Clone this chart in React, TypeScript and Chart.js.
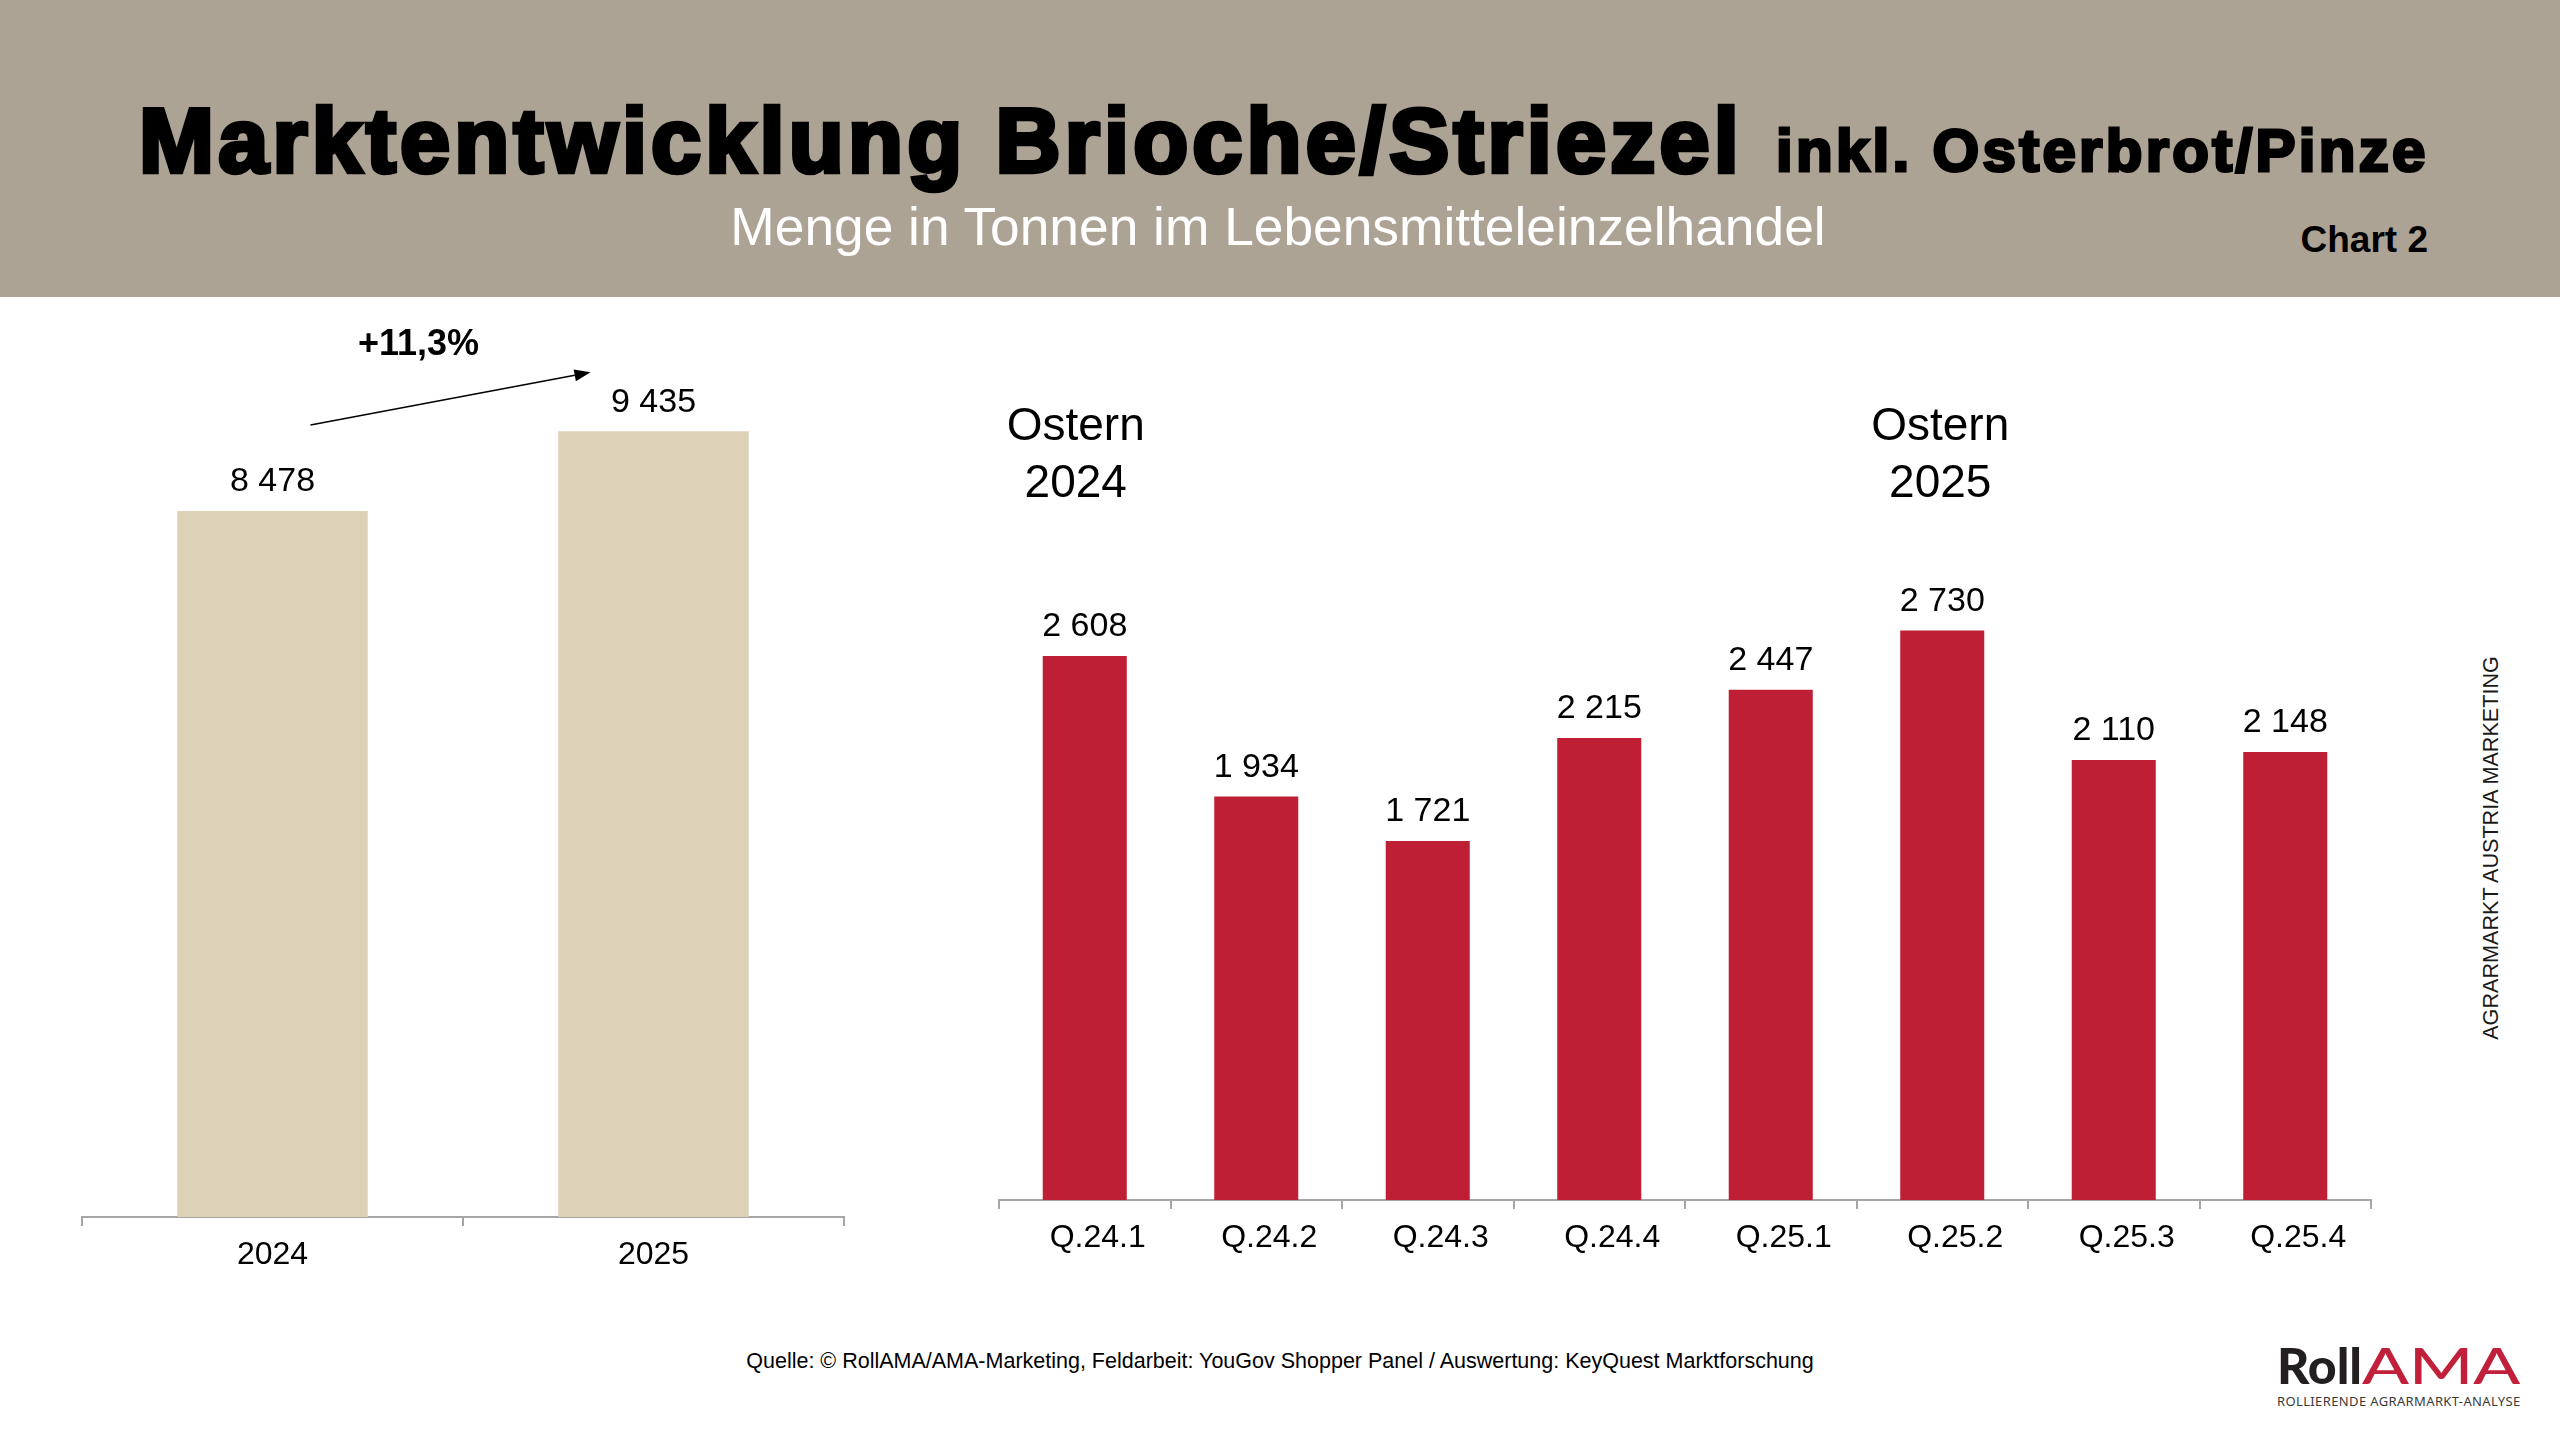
import React, { useEffect, useRef } from 'react';
import { Chart, registerables } from 'chart.js';

Chart.register(...registerables);

// ---- data ----
const yearLabels: string[] = ['2024', '2025'];
const yearValues: number[] = [8478, 9435];
const growthLabel = '+11,3%';

const quarterLabels: string[] = ['Q.24.1', 'Q.24.2', 'Q.24.3', 'Q.24.4', 'Q.25.1', 'Q.25.2', 'Q.25.3', 'Q.25.4'];
const quarterValues: number[] = [2608, 1934, 1721, 2215, 2447, 2730, 2110, 2148];
const easterGroups: string[][] = [['Ostern', '2024'], ['Ostern', '2025']];
const easterIndex: number[] = [0, 5];

const FONT = '"Liberation Sans", Arial, Helvetica, sans-serif';
const BEIGE = '#ddd2b7';
const RED = '#be1f34';
const AXIS = '#a6a6a6';

const fmt = (v: number) => String(v).replace(/\B(?=(\d{3})+(?!\d))/g, ' ');

const valueLabelPlugin = {
  id: 'valueLabels',
  afterDatasetsDraw(chart: any) {
    const ctx = chart.ctx;
    const meta = chart.getDatasetMeta(0);
    const data = chart.data.datasets[0].data as number[];
    ctx.save();
    ctx.font = `34px ${FONT}`;
    ctx.fillStyle = '#000';
    ctx.textAlign = 'center';
    ctx.textBaseline = 'middle';
    meta.data.forEach((el: any, i: number) => {
      ctx.fillText(fmt(data[i]), el.x, el.y - 29);
    });
    ctx.restore();
  },
};

const growthPlugin = {
  id: 'growthArrow',
  afterDatasetsDraw(chart: any) {
    const ctx = chart.ctx;
    const meta = chart.getDatasetMeta(0);
    const a = meta.data[0];
    const b = meta.data[1];
    if (!a || !b) return;
    const x1 = a.x + 38;
    const y1 = a.y - 86;
    const x2 = b.x - 63;
    const y2 = b.y - 59;
    ctx.save();
    ctx.strokeStyle = '#000';
    ctx.fillStyle = '#000';
    ctx.lineWidth = 1.6;
    const ang = Math.atan2(y2 - y1, x2 - x1);
    const hl = 16;
    const hw = 6;
    const bx = x2 - hl * Math.cos(ang);
    const by = y2 - hl * Math.sin(ang);
    ctx.beginPath();
    ctx.moveTo(x1, y1);
    ctx.lineTo(bx, by);
    ctx.stroke();
    ctx.beginPath();
    ctx.moveTo(x2, y2);
    ctx.lineTo(bx + hw * Math.sin(ang), by - hw * Math.cos(ang));
    ctx.lineTo(bx - hw * Math.sin(ang), by + hw * Math.cos(ang));
    ctx.closePath();
    ctx.fill();
    ctx.font = `bold 36px ${FONT}`;
    ctx.textAlign = 'center';
    ctx.textBaseline = 'middle';
    ctx.fillText(growthLabel, (x1 + x2) / 2 - 32, (y1 + y2) / 2 - 54);
    ctx.restore();
  },
};

const easterNudge = [-9, -2];
const easterPlugin = {
  id: 'easterLabels',
  afterDatasetsDraw(chart: any) {
    const ctx = chart.ctx;
    const xs = chart.scales.x;
    const top = chart.chartArea.top;
    ctx.save();
    ctx.font = `46px ${FONT}`;
    ctx.fillStyle = '#000';
    ctx.textAlign = 'center';
    ctx.textBaseline = 'alphabetic';
    easterGroups.forEach((lines, g) => {
      const x = xs.getPixelForValue(easterIndex[g]) + easterNudge[g];
      lines.forEach((t, li) => {
        ctx.fillText(t, x, top - 30 + li * 57);
      });
    });
    ctx.restore();
  },
};

function xAxis(labelOffset: number) {
  return {
    grid: {
      display: true,
      drawOnChartArea: false,
      drawTicks: true,
      tickLength: 9,
      color: AXIS,
      lineWidth: 2,
      offset: true,
    },
    border: { display: true, color: AXIS, width: 2 },
    ticks: { font: { family: FONT, size: 32 }, color: '#000', padding: 10, labelOffset },
    afterFit: (scale: any) => {
      scale.height = 60;
    },
  };
}

function BarChart(props: {
  labels: string[];
  values: number[];
  color: string;
  max: number;
  barPct: number;
  padding: any;
  plugins: any[];
  width: number;
  height: number;
  left: number;
  top: number;
  labelOffset: number;
}) {
  const ref = useRef<HTMLCanvasElement | null>(null);
  useEffect(() => {
    if (!ref.current) return;
    const chart = new Chart(ref.current, {
      type: 'bar',
      data: {
        labels: props.labels,
        datasets: [
          {
            data: props.values,
            backgroundColor: props.color,
            borderWidth: 0,
            categoryPercentage: 1,
            barPercentage: props.barPct,
          },
        ],
      },
      options: {
        responsive: false,
        animation: false,
        devicePixelRatio: 1,
        layout: { padding: props.padding },
        plugins: { legend: { display: false }, tooltip: { enabled: false } },
        scales: {
          x: xAxis(props.labelOffset) as any,
          y: { display: false, min: 0, max: props.max },
        },
      },
      plugins: props.plugins,
    });
    return () => chart.destroy();
  }, []);
  return (
    <canvas
      ref={ref}
      width={props.width}
      height={props.height}
      style={{
        position: 'absolute',
        left: props.left,
        top: props.top,
        width: props.width,
        height: props.height,
      }}
    />
  );
}

export default function App() {
  return (
    <div
      style={{
        position: 'absolute',
        left: 0,
        top: 0,
        width: 2560,
        height: 1440,
        overflow: 'hidden',
        background: '#ffffff',
        fontFamily: FONT,
      }}
    >
      <div style={{ position: 'absolute', left: 0, top: 0, width: 2560, height: 297, background: '#ada395' }} />
      <div
        style={{
          position: 'absolute',
          left: 139,
          top: 96,
          fontSize: 90,
          lineHeight: 1,
          fontWeight: 'bold',
          letterSpacing: 4.2,
          whiteSpace: 'nowrap',
          color: '#000',
          WebkitTextStroke: '4.5px #000',
        } as any}
      >
        Marktentwicklung Brioche/Striezel
      </div>
      <div
        style={{
          position: 'absolute',
          left: 1776,
          top: 121,
          fontSize: 60,
          lineHeight: 1,
          fontWeight: 'bold',
          letterSpacing: 3.3,
          whiteSpace: 'nowrap',
          color: '#000',
          WebkitTextStroke: '3px #000',
        } as any}
      >
        inkl. Osterbrot/Pinze
      </div>
      <div
        style={{
          position: 'absolute',
          left: 0,
          top: 200,
          width: 2556,
          textAlign: 'center',
          fontSize: 53.3,
          lineHeight: 1,
          color: '#ffffff',
          whiteSpace: 'nowrap',
        }}
      >
        Menge in Tonnen im Lebensmitteleinzelhandel
      </div>
      <div
        style={{
          position: 'absolute',
          right: 132,
          top: 221,
          fontSize: 37,
          lineHeight: 1,
          fontWeight: 'bold',
          color: '#000',
          whiteSpace: 'nowrap',
        }}
      >
        Chart 2
      </div>

      <BarChart
        labels={yearLabels}
        values={yearValues}
        color={BEIGE}
        max={11000}
        barPct={0.5}
        padding={{ left: 22, right: 16, top: 101, bottom: 20 }}
        plugins={[valueLabelPlugin, growthPlugin]}
        width={800}
        height={1097}
        left={60}
        top={200}
        labelOffset={0}
      />
      <BarChart
        labels={quarterLabels}
        values={quarterValues}
        color={RED}
        max={3500}
        barPct={0.49}
        padding={{ left: 39, right: 39, top: 110, bottom: 20 }}
        plugins={[valueLabelPlugin, easterPlugin]}
        width={1450}
        height={920}
        left={960}
        top={360}
        labelOffset={13}
      />

      <div
        style={{
          position: 'absolute',
          left: 2491,
          top: 848,
          transform: 'translate(-50%, -50%) rotate(-90deg)',
          fontSize: 21.6,
          lineHeight: 1,
          color: '#1a1a1a',
          whiteSpace: 'nowrap',
        }}
      >
        AGRARMARKT AUSTRIA MARKETING
      </div>

      <div
        style={{
          position: 'absolute',
          left: 0,
          top: 1351,
          width: 2560,
          textAlign: 'center',
          fontSize: 21.5,
          lineHeight: 1,
          color: '#000',
          whiteSpace: 'nowrap',
        }}
      >
        Quelle: © RollAMA/AMA-Marketing, Feldarbeit: YouGov Shopper Panel / Auswertung: KeyQuest Marktforschung
      </div>

      <div style={{ position: 'absolute', left: 2277, top: 1340, whiteSpace: 'nowrap', lineHeight: 1 }}>
        <span style={{ fontFamily: 'Lato, sans-serif', fontWeight: 900, fontSize: 50, color: '#231f20' }}>Roll</span>
        <span
          style={{
            display: 'inline-block',
            fontFamily: 'Lato, sans-serif',
            fontWeight: 500,
            fontSize: 50,
            color: '#c0203a',
            transform: 'scaleX(1.38)',
            transformOrigin: 'left center',
          }}
        >
          AMA
        </span>
      </div>
      <div
        style={{
          position: 'absolute',
          left: 2277,
          top: 1395,
          fontFamily: '"Noto Sans", sans-serif',
          fontSize: 13,
          lineHeight: 1,
          letterSpacing: 0.37,
          color: '#3a3a3a',
          whiteSpace: 'nowrap',
        }}
      >
        ROLLIERENDE AGRARMARKT-ANALYSE
      </div>
    </div>
  );
}
